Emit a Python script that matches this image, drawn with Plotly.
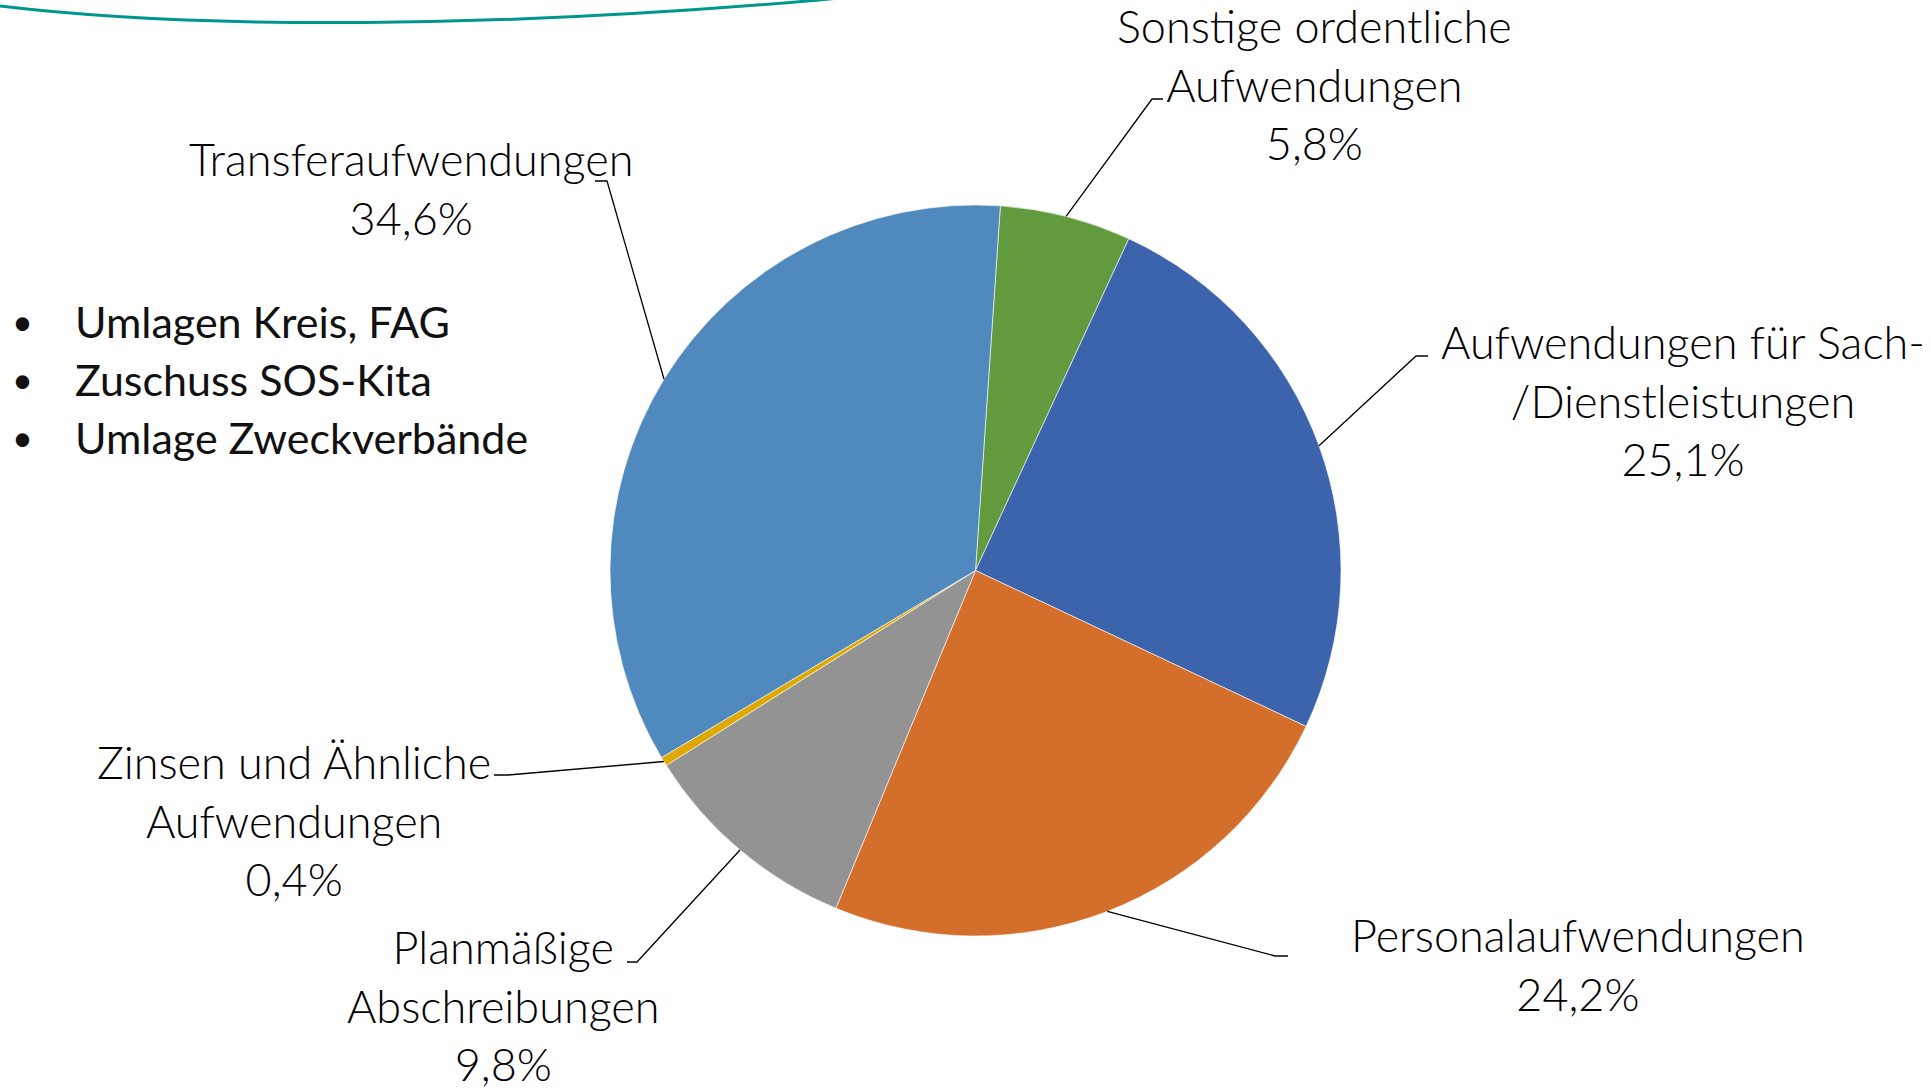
import math
import plotly.graph_objects as go

# ---- data ----
categories = [
    "Sonstige ordentliche<br>Aufwendungen",
    "Aufwendungen für Sach-<br>/Dienstleistungen",
    "Personalaufwendungen",
    "Planmäßige<br>Abschreibungen",
    "Zinsen und Ähnliche<br>Aufwendungen",
    "Transferaufwendungen",
]
shares = [5.8, 25.1, 24.2, 9.8, 0.4, 34.6]
colors = ["#629A3E", "#3C64AD", "#D36E2B", "#939393", "#DEA800", "#4F89BD"]
bullets = ["Umlagen Kreis, FAG", "Zuschuss SOS-Kita", "Umlage Zweckverbände"]

# ---- layout geometry (pixels) ----
W, H = 1931, 1092
cx, cy, R = 975.5, 570.5, 365.5
rotation = 3.9

# label centres and leader-line elbows/ends (pixels)
label_pos = [(1314, 85), (1683, 400), (1578, 964), (504, 1005), (294, 820), (411, 188)]
elbows = [((1152, 99), (1163, 99)),
          ((1416, 356), (1428, 356)),
          ((1275, 956), (1288, 956)),
          ((637, 962), (627, 962)),
          ((508, 775), (494, 775)),
          ((607, 181), (595, 181))]


def px(x):
    return x / W


def py(y):
    return 1 - y / H


def fmt(v):
    return f"{v:.1f}".replace(".", ",") + "%"


fig = go.Figure()
fig.add_trace(go.Pie(
    labels=categories,
    values=shares,
    sort=False,
    direction="clockwise",
    rotation=rotation,
    marker=dict(colors=colors, line=dict(color="white", width=0.6)),
    textinfo="none",
    hoverinfo="skip",
    showlegend=False,
    domain=dict(x=[px(cx - R), px(cx + R)], y=[py(cy + R), py(cy - R)]),
))

LABEL_FONT = dict(family="Lato, 'Open Sans', sans-serif", size=45, color="#000000", weight=300)
BULLET_FONT = dict(family="Lato, 'Open Sans', sans-serif", size=43, color="#111111", weight=400)
DOT_FONT = dict(family="Lato, 'Open Sans', sans-serif", size=36, color="#111111", weight=400)

annotations = []
shapes = []
total = sum(shares)
cum = 0.0
for i, (cat, v) in enumerate(zip(categories, shares)):
    mid = rotation + (cum + v / 2) / total * 360
    cum += v
    a = math.radians(mid)
    sx, sy = cx + R * math.sin(a), cy - R * math.cos(a)
    (ex, ey), (tx, ty) = elbows[i]
    shapes.append(dict(
        type="path", xref="paper", yref="paper",
        path=f"M {px(sx)},{py(sy)} L {px(ex)},{py(ey)} L {px(tx)},{py(ty)}",
        line=dict(color="#000000", width=1.3),
    ))
    lx, ly = label_pos[i]
    annotations.append(dict(
        x=px(lx), y=py(ly), xref="paper", yref="paper",
        text=f"{cat}<br>{fmt(v)}", showarrow=False,
        xanchor="center", yanchor="middle", align="center",
        font=LABEL_FONT,
    ))

# bullet list
for k, b in enumerate(bullets):
    yb = 321 + 58 * k
    annotations.append(dict(
        x=px(22), y=py(yb), xref="paper", yref="paper",
        text="•", showarrow=False,
        xanchor="center", yanchor="middle", font=DOT_FONT,
    ))
    annotations.append(dict(
        x=px(73), y=py(yb), xref="paper", yref="paper",
        text=b, showarrow=False,
        xanchor="left", yanchor="middle", align="left", font=BULLET_FONT,
    ))

# decorative teal arc at the top
shapes.append(dict(
    type="path", xref="paper", yref="paper",
    path=(f"M {px(0)},{py(6)} C {px(200)},{py(30)} {px(500)},{py(28)} "
          f"{px(819)},{py(0)} L {px(900)},{py(-8)}"),
    line=dict(color="#00968F", width=3),
))

fig.update_layout(
    width=W, height=H,
    margin=dict(l=0, r=0, t=0, b=0),
    paper_bgcolor="white", plot_bgcolor="white",
    annotations=annotations, shapes=shapes,
)

fig.write_html("out.html", config={"displayModeBar": False},
               post_script="document.body.style.margin='0';")
